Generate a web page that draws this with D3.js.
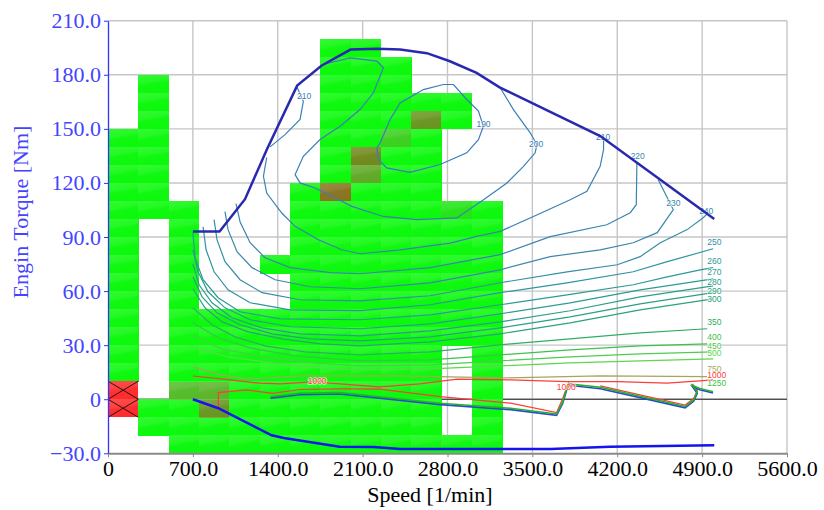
<!DOCTYPE html>
<html>
<head>
<meta charset="utf-8">
<script src="https://cdn.jsdelivr.net/npm/d3@7"></script>
<style>
  body { margin: 0; background: #fff; }
  svg { display: block; }
</style>
</head>
<body>
<script>
'use strict';

// axis ticks
const speedTicks = [0, 700, 1400, 2100, 2800, 3500, 4200, 4900, 5600];
const torqueTicks = [-30, 0, 30, 60, 90, 120, 150, 180, 210];

// operating point histogram: 250 rpm x 10 Nm bins, [low, high] torque per column
const cellRpm = [0, 250, 500, 750, 1000, 1250, 1500, 1750, 2000, 2250, 2500, 2750, 3000];
const cellRanges = [
  [[10, 150]],
  [[-20, 0], [100, 180]],
  [[-30, 110]],
  [[-30, 50]],
  [[-30, 50]],
  [[-30, 50], [70, 80]],
  [[-30, 120]],
  [[-30, 200]],
  [[-30, 200]],
  [[-30, 190]],
  [[-30, 170]],
  [[-30, -20], [30, 110], [150, 170]],
  [[-30, 110]]
];
// bins with higher residence time [rpm, Nm, level]
const hotCells = [
  [1750, 110, 3], [2000, 130, 2.2], [2000, 120, 1.3], [2250, 140, 0.6],
  [2500, 150, 1.8], [2750, 100, 0.3], [500, 0, 0.9], [750, 0, 1.0], [750, -10, 1.8]
];
// bins outside the map
const overloadCells = [[0, -10], [0, 0]];

// full load and motoring curves [rpm, Nm]
const fullLoad = [[700, 93], [920, 93], [1130, 111], [1310, 138.5], [1560, 174], [1760, 185],
  [2000, 194], [2220, 194.5], [2410, 194], [2630, 192], [2820, 187.5], [3040, 181],
  [3230, 173], [4060, 146], [4550, 122], [5000, 100]];
const motoring = [[700, 0], [910, -5], [1350, -20], [1450, -21.5], [1910, -26.3], [2190, -26.5],
  [2410, -27.6], [3650, -27.6], [4140, -26.3], [5000, -25.6]];

// bsfc contour lines [rpm, Nm]
const bsfc190 = [[2217, 139.4], [2230, 133], [2299, 128.3], [2491, 125.9], [2739, 130.2], [2959, 136.7],
  [3055, 144], [3096, 151.4], [3055, 159.8], [2959, 166.3], [2849, 174.6], [2766, 174.6], [2601, 171.8],
  [2409, 164.4], [2327, 155.2], [2244, 142.2], [2217, 139.4]];
const bsfc200 = [[1790, 186], [1997, 189.4], [2217, 187.6], [2271, 183.9], [2244, 179.2], [2189, 170],
  [2079, 160.7], [1914, 151.4], [1749, 144.1], [1611, 134.8], [1543, 124.6], [1584, 120], [1708, 117.2],
  [1846, 112.6], [2011, 107], [2271, 101.4], [2547, 99.6], [2877, 100.6], [3097, 110.7], [3290, 120],
  [3427, 129.2], [3523, 136.7], [3537, 141.3], [3482, 147.8], [3344, 160.7], [3234, 172.8]];
const bsfc210a = [[1560, 173], [1611, 165.3], [1584, 155.2], [1460, 146.8], [1337, 140]];
const bsfc210b = [[1309, 134.1], [1282, 123.7], [1309, 114.4], [1433, 103.3], [1543, 95.9], [1735, 88.5],
  [1928, 82.9], [2079, 80.7], [2409, 82.9], [2822, 86.6], [3042, 90.3], [3234, 93.1], [3509, 101.4],
  [3812, 110.7], [3950, 115.3], [4059, 129.2], [4087, 138.5], [4087, 144]];
const bsfc220 = [[1056, 108.5], [1089, 98.5], [1172, 86.8], [1295, 78.5], [1502, 73], [1832, 70.2],
  [2079, 69.6], [2657, 73], [3234, 80.2], [3647, 90.2], [4114, 96.8], [4307, 103.5], [4357, 107.9], [4362, 131.3]];
const bsfc230 = [[965, 104.1], [990, 94.1], [1064, 81.8], [1188, 73], [1378, 66.3], [1667, 62.4],
  [2079, 61.3], [2657, 64.6], [3234, 71.8], [3647, 79.1], [4059, 82.9], [4332, 86.8], [4530, 92.4],
  [4662, 105.2], [4621, 110.7], [4538, 121.8]];
const bsfc240 = [[875, 99.6], [899, 88.5], [965, 76.3], [1089, 66.3], [1271, 59.1], [1584, 55.2],
  [2079, 54.6], [2657, 57.4], [3234, 64.6], [3786, 70.7], [4200, 74.6], [4389, 79.1], [4555, 86.8],
  [4777, 94.1], [4909, 100.7], [4942, 102.9]];
const bsfc250 = [[784, 95.7], [809, 82.9], [875, 70.7], [990, 60.7], [1172, 53.5], [1502, 49.6],
  [2079, 49.1], [2657, 52.4], [3234, 59.1], [3786, 64.6], [4332, 70.7], [4613, 76.3], [4991, 83.5]];
const bsfc260 = [[700, 92.4], [718, 78.5], [784, 66.3], [908, 56.3], [1089, 48.5], [1419, 44.6],
  [2079, 44.1], [2657, 46.8], [3234, 52.4], [3786, 57.9], [4332, 63.5], [4613, 67.9], [4884, 71.8], [4991, 73]];
const bsfc270 = [[700, 82.9], [743, 70.7], [825, 59.6], [965, 50.7], [1172, 44.1], [1502, 40.2],
  [2079, 39.1], [2657, 41.8], [3234, 47.4], [3812, 53.5], [4389, 60.7], [4991, 66.8]];
const bsfc280 = [[700, 75.1], [751, 63.5], [858, 53.5], [1023, 45.2], [1271, 39.6], [1584, 36.3],
  [2079, 35.2], [2657, 37.9], [3234, 42.9], [3812, 49.1], [4389, 56.8], [4991, 62.9]];
const bsfc290 = [[700, 67.9], [776, 56.8], [899, 47.9], [1089, 41.3], [1353, 36.3], [1667, 33.5],
  [2079, 32.4], [2657, 34.6], [3234, 39.6], [3812, 45.7], [4389, 52.9], [4991, 59.1]];
const bsfc300 = [[700, 61.3], [800, 50.7], [941, 42.9], [1155, 37.4], [1436, 33.5], [1749, 30.7],
  [2079, 29.6], [2657, 31.8], [3234, 36.3], [3812, 42.4], [4389, 49.6], [4991, 55.7]];
const bsfc350 = [[700, 50.7], [858, 41.3], [1048, 34.6], [1295, 29.6], [1625, 26.3], [2079, 24.6],
  [2657, 26.3], [3234, 30.2], [3812, 33.5], [4389, 36.8], [4942, 39.1]];
const bsfc400 = [[700, 42.4], [908, 34.1], [1172, 28.5], [1543, 24.1], [2079, 21.3], [2657, 21.8],
  [3234, 24.6], [3812, 27.4], [4389, 29.6], [4942, 30.7]];
const bsfc450 = [[700, 35.2], [941, 27.9], [1271, 23.5], [1683, 20.2], [2079, 18.5], [2657, 19.1],
  [3234, 21.3], [3812, 23.5], [4389, 25.2], [4991, 26.3]];
const bsfc500 = [[700, 29.1], [990, 23.5], [1353, 20.2], [1766, 17.4], [2079, 16.3], [2657, 16.8],
  [3234, 18.5], [3812, 20.2], [4389, 21.3], [4991, 22.4]];
const bsfc750 = [[700, 17.9], [924, 13.5], [1090, 11.8], [1250, 11.5], [1584, 12.9], [2409, 12.9],
  [3234, 11.8], [4059, 12.9], [4942, 12.5]];
const bsfc1000 = [[700, 12.9], [950, 11.1], [1250, 8.9], [1420, 8.5], [1720, 9.8], [1830, 8.9],
  [2240, 6.8], [2570, 8.5], [2880, 11.1], [3320, 10.7], [3790, 9.8], [4200, 9.8], [4610, 8.9],
  [4880, 10.2], [4990, 10.7]];
const lowRed = [[910, -5], [910, 3.7], [1140, 5.2], [1360, 3.3], [1580, 5.4], [1910, 5.7], [2240, 5.6],
  [2740, 1.4], [3320, -2.2], [3700, -7.4], [3750, 0.4], [3780, 6], [3800, 9.3]];
const lowRed2 = [[4060, 7.4], [4470, 1.2], [4760, -3.2], [4830, 0.4], [4860, 4.9], [4820, 8.5]];
const bsfc1250 = [[1340, 1.4], [1580, 3.3], [1910, 3.7], [2240, 1.4], [2740, -2.2], [3320, -5], [3700, -8.2],
  [3750, -1.5], [3780, 5.2], [3800, 8.5], [4060, 6.6], [4470, 0.4], [4760, -4], [4830, -0.4],
  [4860, 4.1], [4820, 7.7], [4880, 6], [4990, 4.2]];

const contours = [
  [190, bsfc190], [200, bsfc200], [210, bsfc210a], [210, bsfc210b], [220, bsfc220], [230, bsfc230],
  [240, bsfc240], [250, bsfc250], [260, bsfc260], [270, bsfc270], [280, bsfc280], [290, bsfc290],
  [300, bsfc300], [350, bsfc350], [400, bsfc400], [450, bsfc450], [500, bsfc500], [750, bsfc750],
  [1000, bsfc1000], [1000, lowRed], [1000, lowRed2]
];

// contour labels [value, rpm, Nm]
const contourLabels = [
  [190, 3097, 152.7], [200, 3531, 141.6], [210, 1617, 168], [210, 4084, 145.2], [220, 4369, 134.8],
  [230, 4662, 108.9], [240, 4934, 104.6], [250, 4942, 87.4], [260, 4942, 76.8], [270, 4942, 70.3],
  [280, 4942, 64.8], [290, 4942, 59.8], [300, 4942, 55.7], [350, 4942, 42.6], [400, 4942, 34.4],
  [450, 4942, 29.6], [500, 4942, 25.6], [750, 4942, 16.8], [1000, 4942, 13.5], [1250, 4942, 9.2],
  [1000, 1725, 10.3], [1000, 3779, 6.8]
];

const svg = d3.select('body').append('svg')
  .attr('width', 824)
  .attr('height', 510);

const x = d3.scaleLinear().domain([0, 5600]).range([108, 787]);
const y = d3.scaleLinear().domain([-30, 210]).range([453.3, 20.7]);

const bsfcColor = d3.scaleLinear()
  .domain([190, 230, 260, 300, 350, 400, 500])
  .range(['#3a7cba', '#3a88ac', '#2a9a98', '#2aa27c', '#2eae64', '#3cc24e', '#5cd84c']);
const specialColor = { 750: '#a8a45a', 1000: '#ff3b3b', 1250: '#3cc43c' };
const levelColor = v => specialColor[v] || bsfcColor(v);
const hotColor = d3.scaleLinear()
  .domain([0, 1, 2, 3])
  .range(['#0cf80c', '#5cb52c', '#6c8e1e', '#8a7420']);

// cell shading
const defs = svg.append('defs');
const shade = defs.append('linearGradient').attr('id', 'shade')
  .attr('x1', 0).attr('y1', 0).attr('x2', 0.3).attr('y2', 1);
shade.append('stop').attr('offset', '0%').attr('stop-color', '#fff').attr('stop-opacity', 0.16);
shade.append('stop').attr('offset', '45%').attr('stop-color', '#fff').attr('stop-opacity', 0.1);
shade.append('stop').attr('offset', '60%').attr('stop-color', '#fff').attr('stop-opacity', 0.02);
shade.append('stop').attr('offset', '100%').attr('stop-color', '#fff').attr('stop-opacity', 0);

// grid
svg.append('g').selectAll('line.v')
  .data(speedTicks.slice(1))
  .enter().append('line')
  .attr('x1', d => x(d)).attr('x2', d => x(d))
  .attr('y1', y(210)).attr('y2', y(-30))
  .attr('stroke', '#c6c6c6').attr('stroke-width', 1.4);
svg.append('g').selectAll('line.h')
  .data(torqueTicks.slice(1))
  .enter().append('line')
  .attr('x1', x(0)).attr('x2', x(5600))
  .attr('y1', d => y(d)).attr('y2', d => y(d))
  .attr('stroke', '#c6c6c6').attr('stroke-width', 1.4);

// zero torque line
svg.append('line')
  .attr('x1', x(0)).attr('x2', x(5600))
  .attr('y1', y(0)).attr('y2', y(0))
  .attr('stroke', '#222').attr('stroke-width', 1);

// histogram cells
const cellW = x(250) - x(0);
const cellH = y(0) - y(10);
let cells = [];
cellRpm.forEach((rpm, i) => {
  cellRanges[i].forEach(r => {
    for (let t = r[0]; t < r[1]; t += 10) cells.push({ rpm: rpm, nm: t, level: 0 });
  });
});
hotCells.forEach(h => {
  let c = cells.find(c => c.rpm === h[0] && c.nm === h[1]);
  if (c) c.level = h[2];
});

const cellG = svg.append('g').attr('shape-rendering', 'crispEdges');
cellG.selectAll('rect.cell')
  .data(cells)
  .enter().append('rect')
  .attr('x', d => x(d.rpm)).attr('y', d => y(d.nm + 10))
  .attr('width', cellW + 0.5).attr('height', cellH + 0.5)
  .attr('fill', d => hotColor(d.level));
cellG.selectAll('rect.over')
  .data(overloadCells)
  .enter().append('rect')
  .attr('x', d => x(d[0])).attr('y', d => y(d[1] + 10))
  .attr('width', cellW).attr('height', cellH)
  .attr('fill', '#ff2c2c');
cellG.selectAll('rect.shade')
  .data(cells.concat(overloadCells.map(d => ({ rpm: d[0], nm: d[1] }))))
  .enter().append('rect')
  .attr('x', d => x(d.rpm)).attr('y', d => y(d.nm + 10))
  .attr('width', cellW).attr('height', cellH)
  .attr('fill', 'url(#shade)');
overloadCells.forEach(d => {
  let x0 = x(d[0]), x1 = x(d[0] + 250), y0 = y(d[1] + 10), y1 = y(d[1]);
  svg.append('path')
    .attr('d', `M${x0},${y0}L${x1},${y1}M${x0},${y1}L${x1},${y0}`)
    .attr('stroke', '#111').attr('stroke-width', 0.9).attr('fill', 'none');
});

// contour lines
const line = d3.line().x(d => x(d[0])).y(d => y(d[1]));
svg.append('g').selectAll('path')
  .data(contours)
  .enter().append('path')
  .attr('d', d => line(d[1]))
  .attr('fill', 'none')
  .attr('stroke', d => levelColor(d[0]))
  .attr('stroke-width', 1.2);

// stacked high-consumption lines near zero torque
svg.append('path').attr('d', line(bsfc1250))
  .attr('transform', 'translate(0,1.4)')
  .attr('fill', 'none').attr('stroke', '#2a48d8').attr('stroke-width', 1.6);
svg.append('path').attr('d', line(bsfc1250))
  .attr('fill', 'none').attr('stroke', '#22b422').attr('stroke-width', 1.5);

// contour labels
svg.append('g').selectAll('text')
  .data(contourLabels)
  .enter().append('text')
  .attr('x', d => x(d[1]))
  .attr('y', d => y(d[2]))
  .attr('dy', '0.35em')
  .attr('text-anchor', d => d[1] > 4940 && d[0] > 240 ? 'start' : 'middle')
  .attr('fill', d => levelColor(d[0]))
  .attr('stroke', '#fff').attr('stroke-width', 1.6).attr('stroke-opacity', 0.7)
  .attr('paint-order', 'stroke')
  .style('font-family', 'Liberation Sans, Arial, sans-serif')
  .style('font-size', '8.5px')
  .text(d => d[0]);

// full load and motoring curves
svg.append('path').attr('d', line(fullLoad))
  .attr('fill', 'none').attr('stroke', '#2a28b0').attr('stroke-width', 2.5);
svg.append('path').attr('d', line(motoring))
  .attr('fill', 'none').attr('stroke', '#1414ee').attr('stroke-width', 2.5);

// axes
const fmt = d => d === 0 ? '0' : d3.format('.1f')(d);
const xAxis = svg.append('g')
  .attr('transform', `translate(0,${y(-30)})`)
  .call(d3.axisBottom(x).tickValues(speedTicks).tickFormat(fmt).tickSize(4).tickSizeOuter(0).tickPadding(3));
xAxis.select('.domain').attr('stroke', '#8a8a8a').attr('stroke-width', 2);
xAxis.selectAll('.tick line').attr('stroke', '#8a8a8a');
xAxis.selectAll('text')
  .attr('fill', '#000')
  .style('font-family', 'Liberation Serif, Times New Roman, serif')
  .style('font-size', '22px');

const yAxis = svg.append('g')
  .attr('transform', `translate(${x(0)},0)`)
  .call(d3.axisLeft(y).tickValues(torqueTicks).tickFormat(fmt).tickSize(4).tickSizeOuter(0).tickPadding(3));
yAxis.select('.domain').attr('stroke', '#3232ff').attr('stroke-width', 1.3);
yAxis.selectAll('.tick line').attr('stroke', '#3232ff');
yAxis.selectAll('text')
  .attr('fill', '#4444ff')
  .style('font-family', 'Liberation Serif, Times New Roman, serif')
  .style('font-size', '22px');

svg.append('text')
  .attr('x', 430).attr('y', 502)
  .attr('text-anchor', 'middle')
  .style('font-family', 'Liberation Serif, Times New Roman, serif')
  .style('font-size', '22px')
  .attr('fill', '#000')
  .text('Speed [1/min]');

svg.append('text')
  .attr('transform', 'translate(28,212)rotate(-90)')
  .attr('text-anchor', 'middle')
  .style('font-family', 'Liberation Serif, Times New Roman, serif')
  .style('font-size', '22px')
  .attr('fill', '#4444ff')
  .text('Engin Torque [Nm]');
</script>
</body>
</html>
